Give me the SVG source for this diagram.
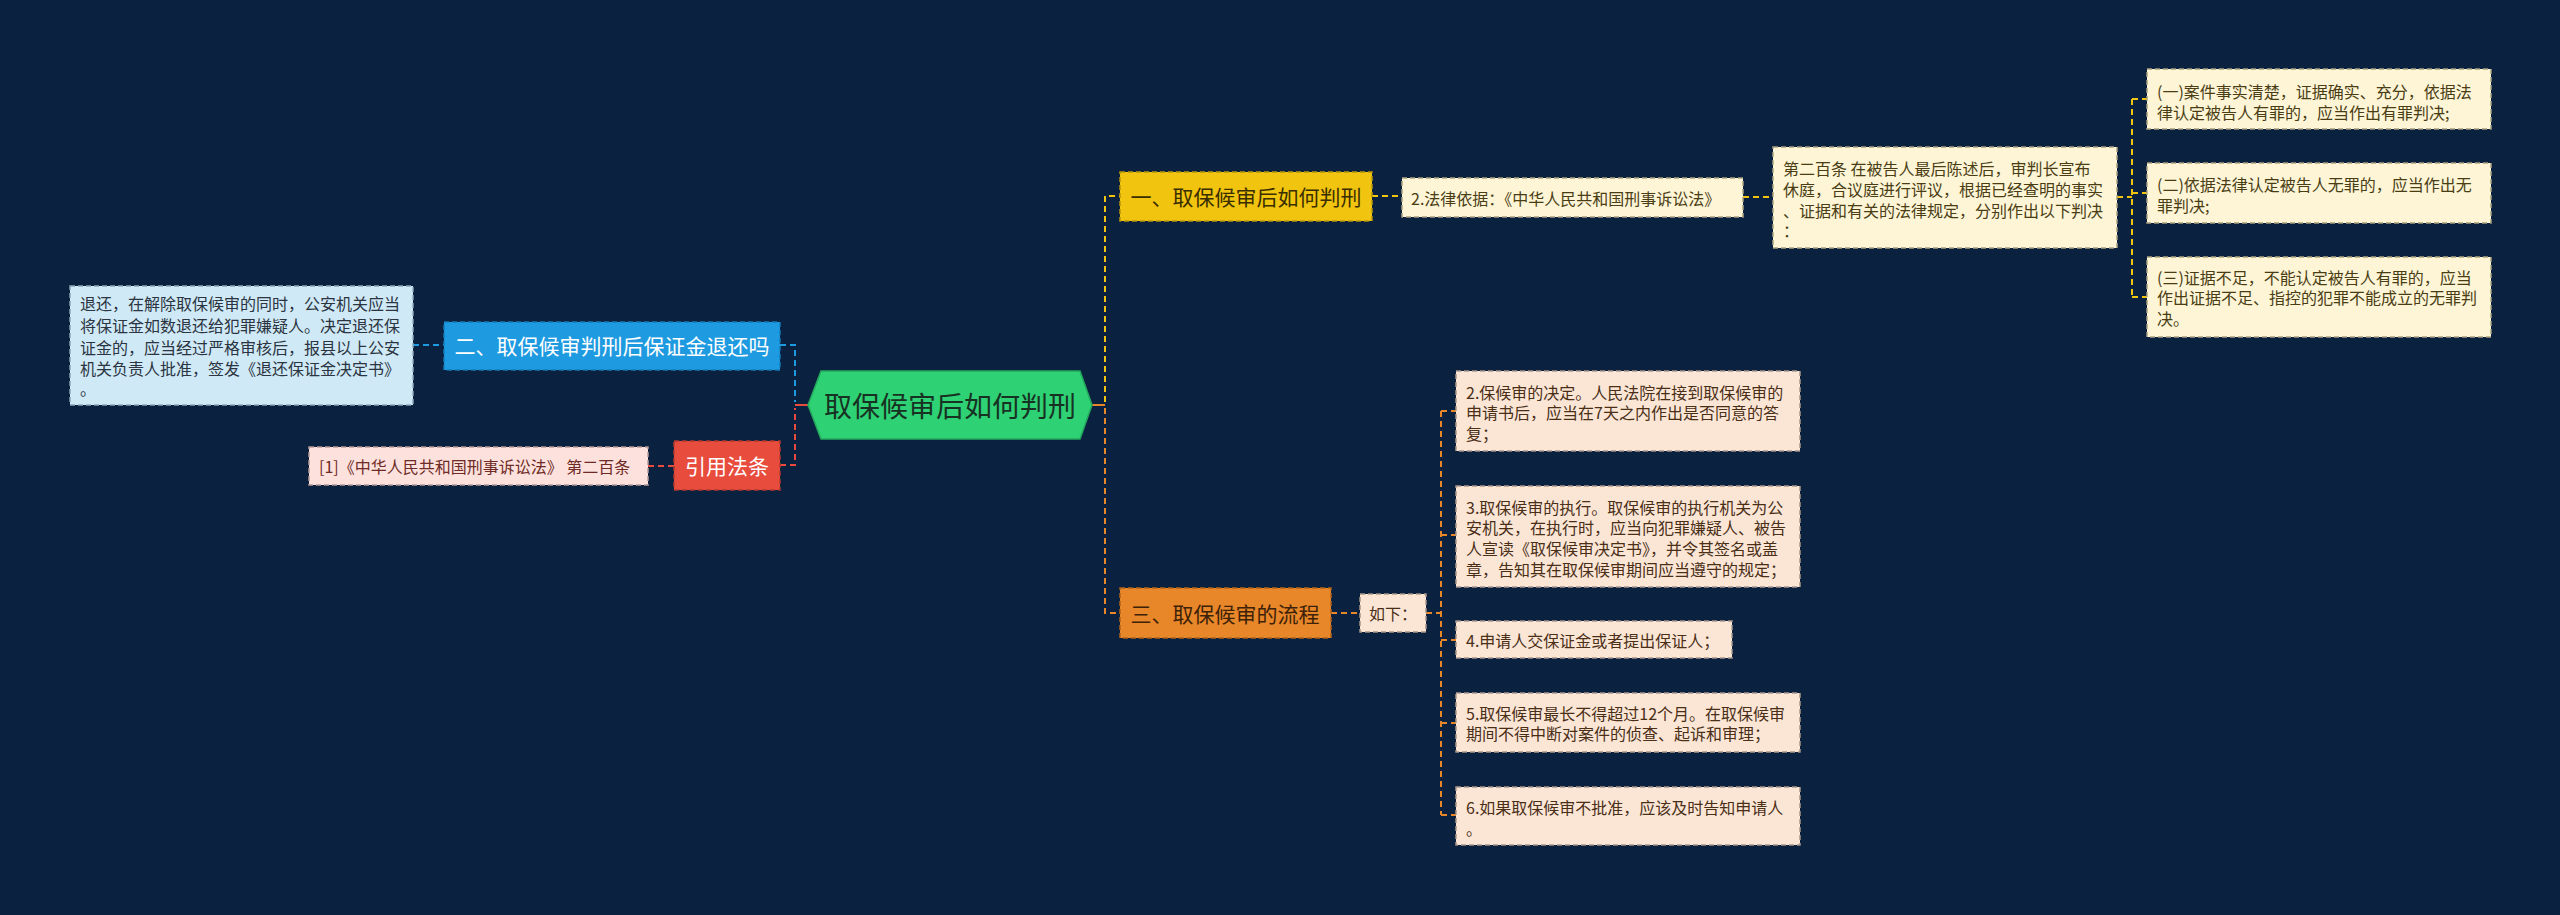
<svg xmlns="http://www.w3.org/2000/svg" width="2560" height="915" viewBox="0 0 2560 915">
<style>
text{font-family:"Noto Sans CJK SC","Noto Sans",sans-serif;dominant-baseline:central}
.t16{font-size:16px}
.t21{font-size:21px}
.box{stroke-width:1.5;stroke-dasharray:5,3}
.con{fill:none;stroke-width:2;stroke-dasharray:6,4}
</style>
<rect width="2560" height="915" fill="#0b2140"/>
<g id="connectors">
<path class="con" stroke="#1e9ae0" d="M413,345H444M780,345H795V402"/>
<path class="con" stroke="#e74c3c" d="M648,466H674M780,465H795V408"/>
<path d="M795,405H808" stroke="#e74c3c" stroke-width="2"/>
<path class="con" stroke="#f1c40f" d="M1105,402V196H1120M1372,196H1402M1743,197H1773M2117,197H2132M2132,99V297M2132,99H2147M2132,193H2147M2132,297H2147"/>
<path class="con" stroke="#e8862a" d="M1105,408V613H1120M1331,613H1360M1426,613H1441M1441,411V815M1441,411H1456M1441,535H1456M1441,640H1456M1441,723H1456M1441,815H1456"/>
<path d="M1092,405H1105" stroke="#e8862a" stroke-width="2"/>
</g>
<g id="center">
<polygon points="808,405 821,371 1080,371 1092,405 1080,439 821,439" fill="#2fd175" stroke="#23a85c" stroke-width="1.5"/>
<text x="950" y="405" font-size="28" text-anchor="middle" fill="#173222">取保候审后如何判刑</text>
</g>
<g id="n2">
<rect class="box" x="444" y="322" width="336" height="48" fill="#1e9ae0" stroke="#137bb8"/>
<text class="t21" x="612" y="345" text-anchor="middle" fill="#ffffff">二、取保候审判刑后保证金退还吗</text>
</g>
<g id="n2a">
<rect class="box" x="70" y="286" width="343" height="119" fill="#cfe9f7" stroke="#8aa7b8"/>
<text class="t16" fill="#2b3440"><tspan x="80" y="303">退还，在解除取保候审的同时，公安机关应当</tspan><tspan x="80" y="325">将保证金如数退还给犯罪嫌疑人。决定退还保</tspan><tspan x="80" y="347">证金的，应当经过严格审核后，报县以上公安</tspan><tspan x="80" y="368">机关负责人批准，签发《退还保证金决定书》</tspan><tspan x="80" y="388">。</tspan></text>
</g>
<g id="ref">
<rect class="box" x="674" y="441" width="106" height="49" fill="#e74c3c" stroke="#b23a2e"/>
<text class="t21" x="727" y="465" text-anchor="middle" fill="#ffffff">引用法条</text>
</g>
<g id="refa">
<rect class="box" x="309" y="447" width="339" height="38" fill="#fde1dd" stroke="#b89a96"/>
<text class="t16" x="319" y="466" fill="#6e2a25">[1]《中华人民共和国刑事诉讼法》 第二百条</text>
</g>
<g id="n1">
<rect class="box" x="1120" y="172" width="252" height="49" fill="#f1c40f" stroke="#b8950a"/>
<text class="t21" x="1246" y="196" text-anchor="middle" fill="#3a2e00">一、取保候审后如何判刑</text>
</g>
<g id="n1a">
<rect class="box" x="1402" y="178" width="341" height="39" fill="#fdf5d6" stroke="#aaa17f"/>
<text class="t16" x="1411" y="198" fill="#4a3d14">2.法律依据：《中华人民共和国刑事诉讼法》</text>
</g>
<g id="n1b">
<rect class="box" x="1773" y="147" width="344" height="101" fill="#fdf5d6" stroke="#aaa17f"/>
<text class="t16" fill="#4a3d14"><tspan x="1783" y="168">第二百条 在被告人最后陈述后，审判长宣布</tspan><tspan x="1783" y="189">休庭，合议庭进行评议，根据已经查明的事实</tspan><tspan x="1783" y="210">、证据和有关的法律规定，分别作出以下判决</tspan><tspan x="1783" y="230">：</tspan></text>
</g>
<g id="n1c1">
<rect class="box" x="2147" y="69" width="344" height="60" fill="#fdf5d6" stroke="#aaa17f"/>
<text class="t16" fill="#4a3d14"><tspan x="2157" y="91">(一)案件事实清楚，证据确实、充分，依据法</tspan><tspan x="2157" y="112">律认定被告人有罪的，应当作出有罪判决;</tspan></text>
</g>
<g id="n1c2">
<rect class="box" x="2147" y="163" width="344" height="60" fill="#fdf5d6" stroke="#aaa17f"/>
<text class="t16" fill="#4a3d14"><tspan x="2157" y="184">(二)依据法律认定被告人无罪的，应当作出无</tspan><tspan x="2157" y="205">罪判决;</tspan></text>
</g>
<g id="n1c3">
<rect class="box" x="2147" y="257" width="344" height="80" fill="#fdf5d6" stroke="#aaa17f"/>
<text class="t16" fill="#4a3d14"><tspan x="2157" y="277">(三)证据不足，不能认定被告人有罪的，应当</tspan><tspan x="2157" y="297">作出证据不足、指控的犯罪不能成立的无罪判</tspan><tspan x="2157" y="318">决。</tspan></text>
</g>
<g id="n3">
<rect class="box" x="1120" y="588" width="211" height="50" fill="#e8862a" stroke="#b0631b"/>
<text class="t21" x="1225" y="613" text-anchor="middle" fill="#3d2208">三、取保候审的流程</text>
</g>
<g id="n3a">
<rect class="box" x="1360" y="594" width="66" height="38" fill="#fbe6d6" stroke="#a8968a"/>
<text class="t16" x="1369" y="613" fill="#4a2e16">如下：</text>
</g>
<g id="n3b2">
<rect class="box" x="1456" y="371" width="344" height="80" fill="#fbe6d6" stroke="#a8968a"/>
<text class="t16" fill="#4a2e16"><tspan x="1466" y="392">2.保候审的决定。人民法院在接到取保候审的</tspan><tspan x="1466" y="412">申请书后，应当在7天之内作出是否同意的答</tspan><tspan x="1466" y="433">复；</tspan></text>
</g>
<g id="n3b3">
<rect class="box" x="1456" y="486" width="344" height="101" fill="#fbe6d6" stroke="#a8968a"/>
<text class="t16" fill="#4a2e16"><tspan x="1466" y="507">3.取保候审的执行。取保候审的执行机关为公</tspan><tspan x="1466" y="527">安机关，在执行时，应当向犯罪嫌疑人、被告</tspan><tspan x="1466" y="548">人宣读《取保候审决定书》，并令其签名或盖</tspan><tspan x="1466" y="569">章，告知其在取保候审期间应当遵守的规定；</tspan></text>
</g>
<g id="n3b4">
<rect class="box" x="1456" y="621" width="276" height="37" fill="#fbe6d6" stroke="#a8968a"/>
<text class="t16" x="1466" y="640" fill="#4a2e16">4.申请人交保证金或者提出保证人；</text>
</g>
<g id="n3b5">
<rect class="box" x="1456" y="693" width="344" height="59" fill="#fbe6d6" stroke="#a8968a"/>
<text class="t16" fill="#4a2e16"><tspan x="1466" y="713">5.取保候审最长不得超过12个月。在取保候审</tspan><tspan x="1466" y="733">期间不得中断对案件的侦查、起诉和审理；</tspan></text>
</g>
<g id="n3b6">
<rect class="box" x="1456" y="787" width="344" height="58" fill="#fbe6d6" stroke="#a8968a"/>
<text class="t16" fill="#4a2e16"><tspan x="1466" y="807">6.如果取保候审不批准，应该及时告知申请人</tspan><tspan x="1466" y="828">。</tspan></text>
</g>
</svg>
